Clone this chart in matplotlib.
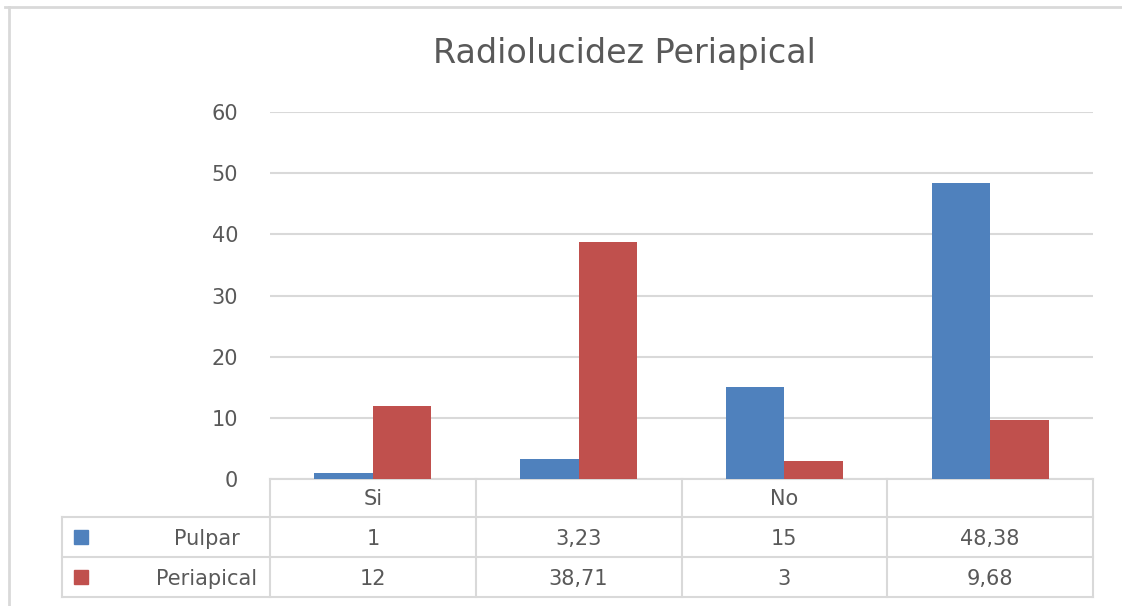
import matplotlib.pyplot as plt
import matplotlib.transforms as mtransforms
from matplotlib.lines import Line2D

categories = ["Si", "", "No", ""]
series_names = ["Pulpar", "Periapical"]
pulpar = [1, 3.23, 15, 48.38]
periapical = [12, 38.71, 3, 9.68]
value_labels = [["1", "3,23", "15", "48,38"],
                 ["12", "38,71", "3", "9,68"]]
yticks = [0, 10, 20, 30, 40, 50, 60]

BLUE = "#4F81BD"
RED = "#C0504D"
GRID = "#D9D9D9"
TEXT = "#595959"

plt.rcParams['font.family'] = ['DejaVu Sans']

W, H = 1122, 606
fig = plt.figure(figsize=(W / 100, H / 100), dpi=100)
ax = fig.add_axes([270 / W, (H - 479) / H, 823 / W, 367 / H])

x = range(len(categories))
bw = 0.284
ax.bar([i - bw / 2 for i in x], pulpar, width=bw, color=BLUE, zorder=3)
ax.bar([i + bw / 2 for i in x], periapical, width=bw, color=RED, zorder=3)

ax.set_xlim(-0.5, len(categories) - 0.5)
ax.set_ylim(0, 60)
ax.set_yticks(yticks)
ax.set_xticks([])
ax.tick_params(axis='y', length=0, pad=23, labelsize=15, labelcolor=TEXT)
for s in ax.spines.values():
    s.set_visible(False)
ax.grid(axis='y', color=GRID, lw=1.5, zorder=0)

# data table under the plot: x in data units, y in axes fraction
tr = mtransforms.blended_transform_factory(ax.transData, ax.transAxes)
px = 1 / 367  # one pixel in axes-fraction units (vertical)
left = -1.51
right = len(categories) - 0.5
rows = [0, -38 * px, -78 * px, -118 * px]
lkw = dict(color=GRID, lw=1.5, transform=tr, clip_on=False)
ax.plot([-0.5, right], [rows[0], rows[0]], **lkw)
for r in rows[1:]:
    ax.plot([left, right], [r, r], **lkw)
for i in range(len(categories) + 1):
    ax.plot([i - 0.5, i - 0.5], [rows[0], rows[3]], **lkw)
ax.plot([left, left], [rows[1], rows[3]], **lkw)

tkw = dict(transform=tr, ha='center', va='baseline', fontsize=15, color=TEXT)
for i, c in enumerate(categories):
    ax.text(i, rows[1] + 12 * px, c, **tkw)
for j, (name, color) in enumerate(zip(series_names, [BLUE, RED])):
    base = rows[j + 2] + 12 * px
    ax.plot([-1.421], [(rows[j + 1] + rows[j + 2]) / 2], marker='s', ms=10,
            color=color, transform=tr, clip_on=False, ls='none')
    ax.text(-0.806, base, name, **tkw)
    for i, lab in enumerate(value_labels[j]):
        ax.text(i, base, lab, **tkw)

fig.text(624 / W, 1 - 63 / H, "Radiolucidez Periapical", ha='center',
         va='baseline', fontsize=24, color=TEXT)

# chart frame (top and left edges)
fig.add_artist(Line2D([5 / W, 1], [1 - 7 / H, 1 - 7 / H], color=GRID, lw=2))
fig.add_artist(Line2D([9 / W, 9 / W], [0, 1 - 7 / H], color=GRID, lw=2))

fig.savefig("out.png", dpi=100, facecolor="white")
